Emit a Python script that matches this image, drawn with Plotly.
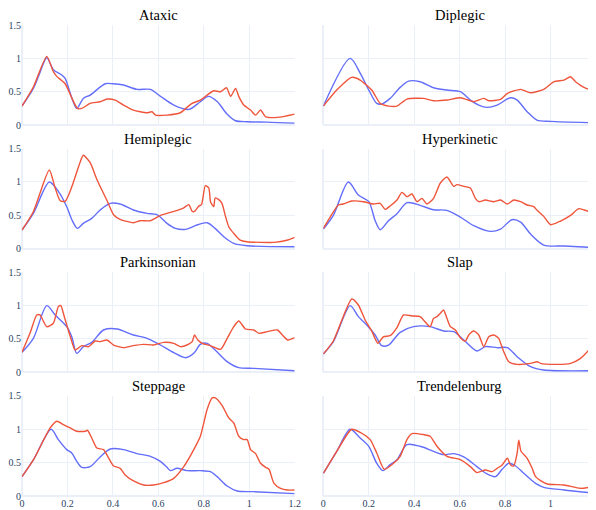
import plotly.graph_objects as go
from plotly.subplots import make_subplots

titles = ["Ataxic", "Diplegic", "Hemiplegic", "Hyperkinetic",
          "Parkinsonian", "Slap", "Steppage", "Trendelenburg"]

# ---- Ataxic ----
ataxic_bx = [0, 0.05, 0.075, 0.109, 0.138, 0.175, 0.19, 0.215, 0.241, 0.27, 0.3, 0.366, 0.4, 0.447, 0.506, 0.565, 0.61, 0.668, 0.734, 0.785, 0.82, 0.86, 0.9, 0.94, 0.99, 1.08, 1.2]
ataxic_by = [0.285, 0.55, 0.75, 1.01, 0.83, 0.75, 0.7, 0.45, 0.25, 0.4, 0.45, 0.62, 0.62, 0.6, 0.535, 0.535, 0.43, 0.3, 0.235, 0.35, 0.43, 0.35, 0.175, 0.065, 0.05, 0.045, 0.03]
ataxic_rx = [0, 0.05, 0.109, 0.138, 0.153, 0.19, 0.22, 0.244, 0.263, 0.3, 0.344, 0.374, 0.41, 0.447, 0.49, 0.55, 0.572, 0.587, 0.638, 0.697, 0.726, 0.749, 0.785, 0.815, 0.844, 0.874, 0.9, 0.918, 0.94, 0.954, 0.976, 1.006, 1.028, 1.05, 1.072, 1.124, 1.2]
ataxic_ry = [0.285, 0.57, 1.03, 0.8, 0.73, 0.62, 0.4, 0.25, 0.25, 0.325, 0.35, 0.39, 0.375, 0.3, 0.225, 0.185, 0.2, 0.15, 0.15, 0.185, 0.265, 0.325, 0.375, 0.45, 0.515, 0.5, 0.56, 0.43, 0.55, 0.43, 0.3, 0.225, 0.15, 0.225, 0.125, 0.115, 0.165]

# ---- Diplegic ----
diplegic_bx = [0, 0.118, 0.162, 0.2, 0.235, 0.257, 0.294, 0.338, 0.375, 0.426, 0.485, 0.544, 0.603, 0.647, 0.684, 0.72, 0.765, 0.824, 0.853, 0.897, 0.94, 1.0, 1.2]
diplegic_by = [0.285, 1.0, 0.78, 0.525, 0.325, 0.315, 0.4, 0.565, 0.66, 0.65, 0.56, 0.525, 0.5, 0.375, 0.3, 0.265, 0.3, 0.41, 0.375, 0.2, 0.075, 0.055, 0.035]
diplegic_rx = [0, 0.059, 0.125, 0.162, 0.213, 0.25, 0.287, 0.324, 0.368, 0.44, 0.485, 0.544, 0.603, 0.662, 0.706, 0.728, 0.78, 0.81, 0.868, 0.912, 0.97, 1.015, 1.059, 1.088, 1.11, 1.147, 1.2]
diplegic_ry = [0.285, 0.525, 0.715, 0.675, 0.525, 0.325, 0.285, 0.285, 0.39, 0.4, 0.365, 0.375, 0.41, 0.35, 0.4, 0.365, 0.385, 0.475, 0.535, 0.485, 0.535, 0.65, 0.675, 0.725, 0.65, 0.565, 0.5]

# ---- Hemiplegic ----
hemiplegic_bx = [0, 0.05, 0.12, 0.16, 0.197, 0.22, 0.244, 0.27, 0.307, 0.344, 0.388, 0.432, 0.49, 0.55, 0.594, 0.638, 0.675, 0.72, 0.77, 0.815, 0.85, 0.888, 0.932, 0.99, 1.2]
hemiplegic_by = [0.28, 0.53, 1.0, 0.86, 0.63, 0.43, 0.305, 0.38, 0.455, 0.58, 0.68, 0.67, 0.58, 0.53, 0.51, 0.38, 0.305, 0.29, 0.355, 0.39, 0.305, 0.18, 0.08, 0.045, 0.03]
hemiplegic_rx = [0, 0.05, 0.12, 0.146, 0.168, 0.19, 0.22, 0.25, 0.27, 0.3, 0.33, 0.373, 0.403, 0.432, 0.49, 0.52, 0.565, 0.61, 0.668, 0.71, 0.734, 0.749, 0.76, 0.778, 0.79, 0.807, 0.822, 0.83, 0.844, 0.85, 0.866, 0.88, 0.896, 0.91, 0.932, 0.96, 0.99, 1.11, 1.17, 1.2]
hemiplegic_ry = [0.28, 0.555, 1.18, 0.91, 0.72, 0.71, 0.935, 1.24, 1.4, 1.29, 1.035, 0.73, 0.51, 0.44, 0.39, 0.42, 0.42, 0.5, 0.56, 0.61, 0.66, 0.56, 0.56, 0.64, 0.66, 0.945, 0.91, 0.7, 0.63, 0.76, 0.735, 0.68, 0.48, 0.33, 0.23, 0.13, 0.105, 0.095, 0.13, 0.17]

# ---- Hyperkinetic ----
hyper_bx = [0, 0.044, 0.11, 0.154, 0.2, 0.228, 0.25, 0.287, 0.324, 0.368, 0.426, 0.485, 0.544, 0.603, 0.662, 0.735, 0.78, 0.83, 0.868, 0.912, 0.97, 1.06, 1.2]
hyper_by = [0.295, 0.5, 1.0, 0.805, 0.705, 0.42, 0.285, 0.42, 0.525, 0.69, 0.65, 0.585, 0.575, 0.475, 0.345, 0.26, 0.295, 0.435, 0.4, 0.22, 0.055, 0.04, 0.015]
hyper_rx = [0, 0.03, 0.066, 0.088, 0.125, 0.176, 0.22, 0.25, 0.272, 0.294, 0.324, 0.346, 0.368, 0.39, 0.412, 0.434, 0.456, 0.485, 0.515, 0.544, 0.574, 0.588, 0.618, 0.647, 0.669, 0.684, 0.713, 0.75, 0.78, 0.81, 0.838, 0.868, 0.897, 0.926, 0.941, 0.97, 1.0, 1.044, 1.088, 1.125, 1.162, 1.184, 1.2]
hyper_ry = [0.305, 0.475, 0.655, 0.67, 0.715, 0.705, 0.67, 0.68, 0.59, 0.64, 0.73, 0.845, 0.78, 0.82, 0.705, 0.755, 0.67, 0.755, 0.985, 1.075, 0.935, 0.96, 0.935, 0.91, 0.755, 0.705, 0.73, 0.705, 0.73, 0.67, 0.73, 0.705, 0.655, 0.63, 0.575, 0.485, 0.36, 0.415, 0.5, 0.6, 0.565, 0.55, 0.615]

# ---- Parkinsonian ----
park_bx = [0, 0.05, 0.109, 0.146, 0.197, 0.219, 0.241, 0.27, 0.307, 0.359, 0.418, 0.49, 0.55, 0.609, 0.668, 0.72, 0.756, 0.785, 0.815, 0.85, 0.903, 0.954, 1.02, 1.2]
park_by = [0.3, 0.51, 1.0, 0.86, 0.685, 0.535, 0.285, 0.385, 0.45, 0.635, 0.65, 0.56, 0.51, 0.41, 0.295, 0.22, 0.285, 0.42, 0.435, 0.335, 0.16, 0.07, 0.06, 0.025]
park_rx = [0, 0.035, 0.065, 0.079, 0.109, 0.138, 0.16, 0.171, 0.182, 0.197, 0.215, 0.234, 0.263, 0.293, 0.322, 0.344, 0.374, 0.403, 0.447, 0.49, 0.535, 0.579, 0.624, 0.668, 0.697, 0.726, 0.749, 0.759, 0.774, 0.793, 0.829, 0.874, 0.903, 0.932, 0.954, 0.984, 1.02, 1.043, 1.08, 1.124, 1.146, 1.17, 1.2]
park_ry = [0.3, 0.585, 0.86, 0.86, 0.685, 0.735, 0.985, 1.0, 0.885, 0.71, 0.51, 0.335, 0.4, 0.385, 0.47, 0.46, 0.485, 0.41, 0.37, 0.4, 0.42, 0.41, 0.45, 0.435, 0.385, 0.41, 0.46, 0.56, 0.485, 0.435, 0.4, 0.345, 0.51, 0.685, 0.77, 0.65, 0.635, 0.585, 0.61, 0.635, 0.56, 0.485, 0.52]

# ---- Slap ----
slap_bx = [0, 0.044, 0.118, 0.154, 0.191, 0.228, 0.257, 0.287, 0.338, 0.397, 0.47, 0.529, 0.574, 0.618, 0.676, 0.713, 0.765, 0.81, 0.853, 0.912, 0.97, 1.2]
slap_by = [0.275, 0.46, 1.0, 0.835, 0.71, 0.56, 0.4, 0.41, 0.6, 0.685, 0.685, 0.62, 0.61, 0.485, 0.32, 0.385, 0.37, 0.37, 0.235, 0.085, 0.035, 0.025]
slap_rx = [0, 0.044, 0.125, 0.154, 0.184, 0.213, 0.24, 0.265, 0.294, 0.324, 0.353, 0.39, 0.426, 0.47, 0.485, 0.5, 0.515, 0.529, 0.544, 0.559, 0.581, 0.603, 0.625, 0.64, 0.662, 0.684, 0.706, 0.728, 0.75, 0.772, 0.782, 0.794, 0.816, 0.853, 0.912, 0.941, 0.956, 1.03, 1.088, 1.132, 1.169, 1.2]
slap_ry = [0.275, 0.47, 1.1, 1.01, 0.785, 0.62, 0.435, 0.535, 0.55, 0.67, 0.86, 0.845, 0.835, 0.685, 0.81, 0.835, 0.885, 0.935, 0.81, 0.685, 0.635, 0.52, 0.47, 0.56, 0.62, 0.56, 0.385, 0.535, 0.56, 0.51, 0.42, 0.31, 0.16, 0.12, 0.135, 0.16, 0.135, 0.12, 0.135, 0.21, 0.335, 0.46]

# ---- Steppage ----
step_bx = [0, 0.05, 0.128, 0.16, 0.197, 0.219, 0.241, 0.263, 0.3, 0.344, 0.388, 0.447, 0.506, 0.565, 0.609, 0.638, 0.653, 0.682, 0.726, 0.785, 0.829, 0.859, 0.903, 0.947, 1.02, 1.2]
step_by = [0.29, 0.54, 1.0, 0.845, 0.695, 0.645, 0.52, 0.43, 0.44, 0.585, 0.705, 0.695, 0.635, 0.595, 0.52, 0.43, 0.38, 0.415, 0.38, 0.38, 0.365, 0.29, 0.15, 0.075, 0.065, 0.035]
step_rx = [0, 0.05, 0.124, 0.153, 0.182, 0.212, 0.241, 0.278, 0.288, 0.307, 0.329, 0.359, 0.381, 0.403, 0.432, 0.454, 0.491, 0.535, 0.579, 0.624, 0.668, 0.712, 0.756, 0.785, 0.815, 0.837, 0.851, 0.881, 0.91, 0.932, 0.954, 0.976, 0.991, 1.006, 1.028, 1.05, 1.072, 1.087, 1.109, 1.138, 1.168, 1.2]
step_ry = [0.29, 0.54, 1.02, 1.12, 1.07, 1.02, 0.97, 0.97, 0.985, 0.87, 0.72, 0.695, 0.57, 0.45, 0.415, 0.315, 0.225, 0.165, 0.165, 0.2, 0.265, 0.44, 0.695, 0.895, 1.3, 1.47, 1.47, 1.355, 1.17, 1.095, 0.895, 0.845, 0.845, 0.695, 0.635, 0.49, 0.43, 0.4, 0.19, 0.115, 0.09, 0.09]

# ---- Trendelenburg ----
trend_bx = [0, 0.059, 0.118, 0.162, 0.2, 0.235, 0.262, 0.294, 0.324, 0.368, 0.426, 0.485, 0.529, 0.574, 0.618, 0.676, 0.72, 0.757, 0.787, 0.816, 0.846, 0.882, 0.934, 0.97, 1.059, 1.2]
trend_by = [0.34, 0.67, 1.0, 0.87, 0.745, 0.49, 0.38, 0.47, 0.545, 0.77, 0.745, 0.67, 0.62, 0.635, 0.585, 0.44, 0.33, 0.29, 0.4, 0.49, 0.45, 0.34, 0.19, 0.13, 0.09, 0.04]
trend_rx = [0, 0.059, 0.125, 0.162, 0.206, 0.235, 0.268, 0.309, 0.338, 0.368, 0.39, 0.441, 0.47, 0.5, 0.544, 0.603, 0.647, 0.676, 0.713, 0.743, 0.765, 0.787, 0.81, 0.824, 0.838, 0.853, 0.86, 0.87, 0.897, 0.919, 0.934, 0.956, 0.985, 1.059, 1.132, 1.2]
trend_ry = [0.34, 0.67, 1.0, 0.955, 0.845, 0.645, 0.4, 0.49, 0.595, 0.845, 0.935, 0.92, 0.895, 0.745, 0.595, 0.545, 0.44, 0.35, 0.39, 0.365, 0.415, 0.465, 0.565, 0.465, 0.45, 0.645, 0.835, 0.67, 0.565, 0.415, 0.29, 0.23, 0.18, 0.165, 0.115, 0.15]

panels = [
    (ataxic_bx, ataxic_by, ataxic_rx, ataxic_ry),
    (diplegic_bx, diplegic_by, diplegic_rx, diplegic_ry),
    (hemiplegic_bx, hemiplegic_by, hemiplegic_rx, hemiplegic_ry),
    (hyper_bx, hyper_by, hyper_rx, hyper_ry),
    (park_bx, park_by, park_rx, park_ry),
    (slap_bx, slap_by, slap_rx, slap_ry),
    (step_bx, step_by, step_rx, step_ry),
    (trend_bx, trend_by, trend_rx, trend_ry),
]

BLUE = "#636EFA"
RED = "#EF553B"

fig = make_subplots(rows=4, cols=2, shared_xaxes=True, shared_yaxes=True,
                    subplot_titles=titles, vertical_spacing=0.05,
                    horizontal_spacing=0.05)

for i, (bx, by, rx, ry) in enumerate(panels):
    r, c = i // 2 + 1, i % 2 + 1
    fig.add_trace(go.Scatter(x=bx, y=by, mode="lines",
                             line=dict(color=BLUE, width=1.4, shape="spline", smoothing=0.8),
                             showlegend=False), row=r, col=c)
    fig.add_trace(go.Scatter(x=rx, y=ry, mode="lines",
                             line=dict(color=RED, width=1.4, shape="spline", smoothing=0.6),
                             showlegend=False), row=r, col=c)

fig.update_xaxes(range=[0, 1.2], dtick=0.2, showline=False, automargin=False)
fig.update_yaxes(range=[0, 1.5], dtick=0.5, automargin=False)

fig.update_layout(
    template="plotly_white",
    width=596, height=510,
    margin=dict(l=14, r=8, t=17, b=22),
    font=dict(family="Liberation Serif", size=10),
)
for a in fig.layout.annotations:
    a.font = dict(family="Liberation Serif", size=14.5, color="black")

fig.write_html("out.html")
